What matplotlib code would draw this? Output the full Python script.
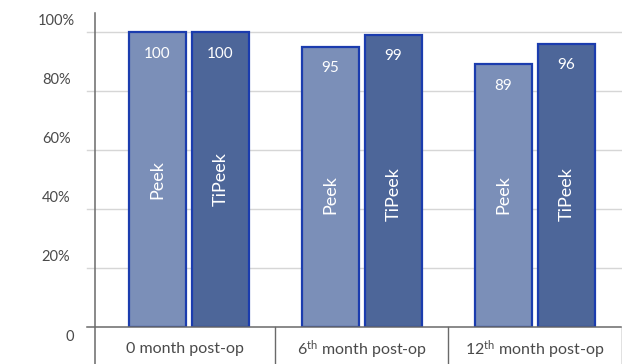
import matplotlib
matplotlib.use("Agg")
import matplotlib.pyplot as plt
import matplotlib.transforms as mtransforms
import numpy as np

plt.rcParams["font.family"] = ["Lato", "DejaVu Sans"]
plt.rcParams["mathtext.fontset"] = "custom"
plt.rcParams["mathtext.rm"] = "Lato"
plt.rcParams["mathtext.it"] = "Lato:italic"

# Data
categories = ["0 month post-op", "6$^{\\mathrm{th}}$ month post-op", "12$^{\\mathrm{th}}$ month post-op"]
series_names = ["Peek", "TiPeek"]
peek_values = [100, 95, 89]
tipeek_values = [100, 99, 96]
ytick_values = [0, 20, 40, 60, 80, 100]
ytick_labels = ["0", "20%", "40%", "60%", "80%", "100%"]

# Styling
fill_colors = ["#7b8fb8", "#4d6699"]
edge_color = "#1b3cae"
grid_color = "#d6d6d6"
axis_color = "#6a6a6a"
text_color = "#4a4a4a"
name_centers = [50, 45, 45]   # vertical centre of rotated series names per group

W, H = 622, 364
fig = plt.figure(figsize=(W / 100, H / 100), dpi=100)
ax_left, ax_right = 95, 621
ax_bottom, ax_top = 327, 13
ax = fig.add_axes([ax_left / W, (H - ax_bottom) / H,
                   (ax_right - ax_left) / W, (ax_bottom - ax_top) / H])

ymax = (ax_bottom - ax_top) / 2.95
ax.set_ylim(0, ymax)
ax.set_xlim(-0.543, 2.497)

x = np.arange(len(categories))
width = 0.33
offset = 0.182

for vals, col, sign in [(peek_values, fill_colors[0], -1), (tipeek_values, fill_colors[1], 1)]:
    ax.bar(x + sign * offset, vals, width=width, color=col,
           edgecolor=edge_color, linewidth=1.6, zorder=3)

# Value labels near bar tops and rotated series names
for i in range(len(categories)):
    for sign, vals, name in [(-1, peek_values, series_names[0]), (1, tipeek_values, series_names[1])]:
        xi = x[i] + sign * offset
        ax.annotate(str(vals[i]), (xi, vals[i]), xytext=(0, -15.5),
                    textcoords="offset points", ha="center", va="center",
                    color="white", fontsize=11, zorder=4)
        ax.text(xi, name_centers[i], name, rotation=90, ha="center", va="center",
                color="white", fontsize=13, zorder=4)

# Horizontal gridlines extending slightly left of the axis
blend = mtransforms.blended_transform_factory(ax.transAxes, ax.transData)
ext = 8 / (ax_right - ax_left)
for v in ytick_values[1:]:
    ax.plot([-ext, 1], [v, v], transform=blend, color=grid_color,
            linewidth=1.0, clip_on=False, zorder=1)
ax.plot([-ext, 1], [0, 0], transform=blend, color=axis_color,
        linewidth=1.1, clip_on=False, zorder=5)

# Tick labels
ax.set_xticks([])
ax.set_yticks([])
for s in ax.spines.values():
    s.set_visible(False)
for v, lab in zip(ytick_values, ytick_labels):
    if v == 0:
        ax.annotate(lab, (0, v), xycoords=blend, xytext=(-18, -7),
                    textcoords="offset points", ha="center", va="center",
                    color=text_color, fontsize=10.5)
    else:
        ax.annotate(lab, (0, v), xycoords=blend, xytext=(-28, 8),
                    textcoords="offset points", ha="center", va="center",
                    color=text_color, fontsize=10.5)

# Left axis line continuing into the category table
below = (H - ax_bottom) / (ax_bottom - ax_top)
ax.plot([0, 0], [-below, 1], transform=ax.transAxes, color=axis_color,
        linewidth=1.1, clip_on=False, zorder=5)

# Category table beneath the plot
blend_x = mtransforms.blended_transform_factory(ax.transData, ax.transAxes)
for b in [0.5, 1.5, 2.5]:
    ax.plot([b, b], [-below, 0], transform=blend_x, color=axis_color,
            linewidth=1.0, clip_on=False)
bounds = [ax.get_xlim()[0], 0.5, 1.5, 2.5]
for i, cat in enumerate(categories):
    cx = (bounds[i] + bounds[i + 1]) / 2
    ax.text(cx, -below * 0.6, cat, transform=blend_x, ha="center", va="center",
            color=text_color, fontsize=11.5)

fig.savefig("out.png", dpi=100)
